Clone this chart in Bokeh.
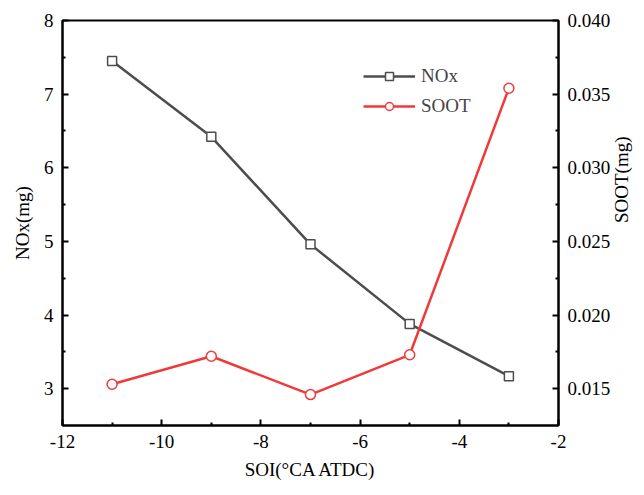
import math
from bokeh.plotting import figure
from bokeh.models import Range1d, LinearAxis, FixedTicker, Legend, LegendItem, PrintfTickFormatter
from bokeh.embed import file_html
from bokeh.resources import INLINE

soi = [-11, -9, -7, -5, -3]
nox = [7.45, 6.42, 4.96, 3.88, 3.17]
soot = [0.0153, 0.0172, 0.0146, 0.0173, 0.0354]

x_ticks = [-12, -10, -8, -6, -4, -2]
x_minor = [-11, -9, -7, -5, -3]
nox_ticks = [3, 4, 5, 6, 7, 8]
nox_minor = [3.5, 4.5, 5.5, 6.5, 7.5]
soot_ticks = [0.015, 0.020, 0.025, 0.030, 0.035, 0.040]
soot_minor = [0.0175, 0.0225, 0.0275, 0.0325, 0.0375]

FONT = "Liberation Serif"
NOX_COLOR = "#4d4d4d"
SOOT_COLOR = "#f03a3a"

p = figure(frame_width=496, frame_height=405,
           x_range=Range1d(-12, -2), y_range=Range1d(2.5, 8),
           output_backend="svg", toolbar_location=None,
           min_border_left=62, min_border_right=76,
           min_border_top=20, min_border_bottom=62,
           background_fill_color="white", border_fill_color="white")
p.extra_y_ranges = {"soot": Range1d(0.0125, 0.040)}

p.xgrid.visible = False
p.ygrid.visible = False
p.outline_line_color = "black"
p.outline_line_width = 2

p.xaxis.ticker = FixedTicker(ticks=x_ticks, minor_ticks=x_minor)
p.xaxis.formatter = PrintfTickFormatter(format="%d")
p.yaxis.ticker = FixedTicker(ticks=nox_ticks, minor_ticks=nox_minor)
p.yaxis.formatter = PrintfTickFormatter(format="%d")
p.xaxis.axis_label = "SOI(°CA ATDC)"
p.yaxis.axis_label = "NOx(mg)"

ax_r = LinearAxis(y_range_name="soot", axis_label="SOOT(mg)",
                  ticker=FixedTicker(ticks=soot_ticks, minor_ticks=soot_minor),
                  formatter=PrintfTickFormatter(format="%.3f"))
p.add_layout(ax_r, "right")

for ax in [p.xaxis[0], p.yaxis[0], ax_r]:
    ax.axis_line_width = 2
    ax.axis_line_color = "black"
    ax.major_tick_in = 6
    ax.major_tick_out = 0
    ax.minor_tick_in = 3
    ax.minor_tick_out = 0
    ax.major_tick_line_width = 2
    ax.minor_tick_line_width = 2
    ax.major_label_text_font = FONT
    ax.major_label_text_font_size = "19px"
    ax.major_label_text_color = "black"
    ax.axis_label_text_font = FONT
    ax.axis_label_text_font_size = "19px"
    ax.axis_label_text_font_style = "normal"
    ax.axis_label_text_color = "black"
    ax.major_label_standoff = 9
    ax.axis_label_standoff = 8

ax_r.axis_label_orientation = math.pi / 2

l1 = p.line(soi, nox, line_color=NOX_COLOR, line_width=2.5)
s1 = p.scatter(soi, nox, marker="square", size=9, fill_color="white",
               line_color=NOX_COLOR, line_width=1.5)
l2 = p.line(soi, soot, line_color=SOOT_COLOR, line_width=2.5, y_range_name="soot")
s2 = p.scatter(soi, soot, marker="circle", size=10, fill_color="white",
               line_color=SOOT_COLOR, line_width=1.5, y_range_name="soot")

legend = Legend(items=[LegendItem(label="NOx", renderers=[l1, s1]),
                       LegendItem(label="SOOT", renderers=[l2, s2])],
                location=(301, 308), padding=0, margin=0,
                glyph_width=52, glyph_height=20, label_height=20,
                spacing=8, label_standoff=6,
                border_line_color=None, background_fill_alpha=0,
                label_text_font=FONT, label_text_font_size="19px")
p.add_layout(legend, "center")

open("out.html", "w").write(file_html(p, INLINE))
